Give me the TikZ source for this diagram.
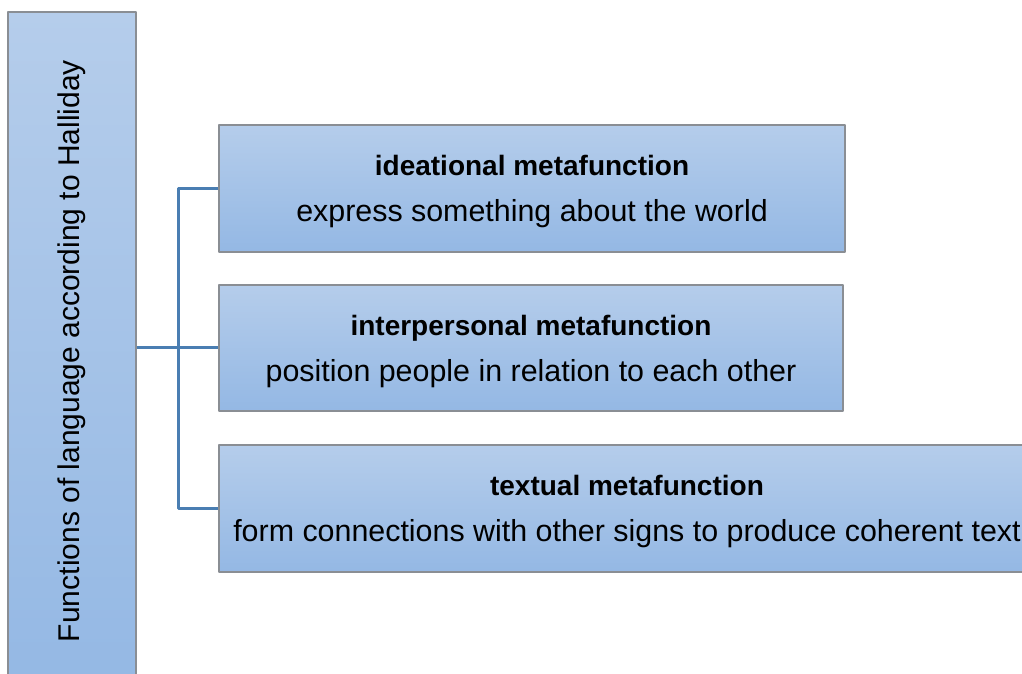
\documentclass[tikz,border=0pt]{standalone}
\usepackage{fontspec}
\setmainfont{Liberation Sans}
\usetikzlibrary{positioning}
\definecolor{boxtop}{HTML}{B5CDEB}
\definecolor{boxbottom}{HTML}{94B8E4}
\definecolor{boxedge}{HTML}{8A8E94}
\definecolor{linkblue}{HTML}{4A7EB2}
\begin{document}
\begin{tikzpicture}[x=1pt,y=1pt,line cap=round,line join=round,
  fbox/.style={draw=boxedge,line width=1.2pt,top color=boxtop,bottom color=boxbottom,inner sep=0pt,align=center,text depth=0pt,font=\fontsize{30.4}{46}\selectfont},
  link/.style={draw=linkblue,line width=3pt,line cap=butt}]
\useasboundingbox (0,0) rectangle (1022,674);
\node[fbox,minimum width=128,minimum height=678] (halliday) at (72,323) {};
\node[rotate=90,font=\fontsize{30}{36}\selectfont] (hallidaytext) at (72,323) {Functions of language according to Halliday};
\node[fbox,minimum width=626,minimum height=127] (ideational) at (532,485.5) {{\fontsize{28}{46}\selectfont\bfseries ideational metafunction}\\express something about the world};
\node[fbox,minimum width=624,minimum height=126] (interpersonal) at (531,326) {{\fontsize{28}{46}\selectfont\bfseries interpersonal metafunction}\\position people in relation to each other};
\node[fbox,minimum width=816,minimum height=127] (textual) at (627,165.5) {{\fontsize{28}{46}\selectfont\bfseries textual metafunction}\\form connections with other signs to produce coherent text};
\coordinate (fork) at (178,326);
\draw[link] (halliday.east |- interpersonal.west) -- (interpersonal.west);
\draw[link] (ideational.west) -| (fork) |- (textual.west);
\end{tikzpicture}
\end{document}
